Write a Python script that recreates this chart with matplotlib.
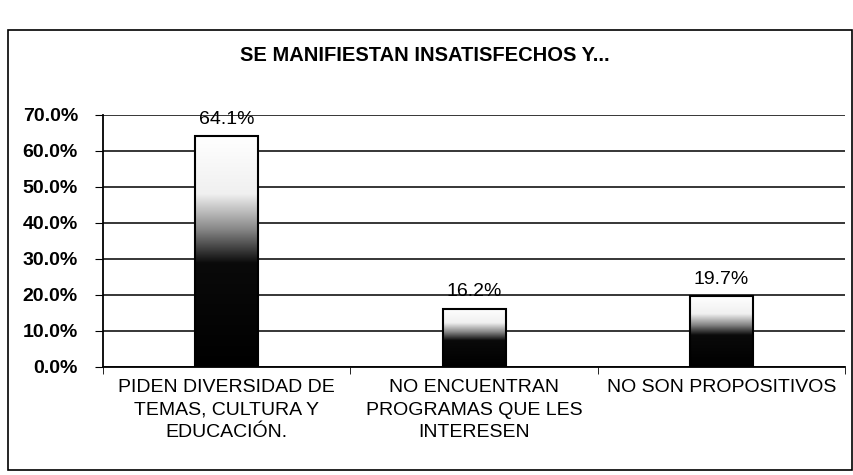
import numpy as np
import matplotlib.pyplot as plt
from matplotlib.colors import LinearSegmentedColormap
from matplotlib.patches import Rectangle

# Data
categories = ["PIDEN DIVERSIDAD DE\nTEMAS, CULTURA Y\nEDUCACIÓN.",
              "NO ENCUENTRAN\nPROGRAMAS QUE LES\nINTERESEN",
              "NO SON PROPOSITIVOS"]
values = [0.641, 0.162, 0.197]
value_labels = ["64.1%", "16.2%", "19.7%"]
y_ticks = [0.0, 0.1, 0.2, 0.3, 0.4, 0.5, 0.6, 0.7]
title = "SE MANIFIESTAN INSATISFECHOS Y..."

plt.rcParams['font.family'] = ['Liberation Sans', 'DejaVu Sans']

fig = plt.figure(figsize=(8.54, 4.75), dpi=100)
ax = fig.add_axes([0.1206, 0.2274, 0.869, 0.531])

# Outer frame of the chart
fig.patches.append(Rectangle((0.009, 0.0105), 0.989, 0.927, transform=fig.transFigure,
                             fill=False, edgecolor='black', linewidth=1.2))

x = np.arange(len(categories))
width = 0.255

# Dark-to-light fill for the bars
cmap = LinearSegmentedColormap.from_list(
    "fade", [(0.0, "black"), (0.45, "#0a0a0a"), (0.6, "#8a8a8a"), (0.75, "#f0f0f0"), (1.0, "white")])
grad = np.linspace(0, 1, 256).reshape(-1, 1)

bars = ax.bar(x, values, width=width, color='none', edgecolor='black', linewidth=1.5, zorder=3)
for b in bars:
    x0, h = b.get_x(), b.get_height()
    ax.imshow(grad, cmap=cmap, origin='lower', aspect='auto',
              extent=[x0, x0 + b.get_width(), 0, h], zorder=2)

for xi, v, lab in zip(x, values, value_labels):
    ax.annotate(lab, (xi, v), xytext=(0, 6), textcoords='offset points',
                ha='center', va='bottom', fontsize=14)

ax.set_xlim(-0.5, len(categories) - 0.5)
ax.set_ylim(0, 0.7)
ax.set_yticks(y_ticks)
ax.set_yticklabels([f"{t * 100:.1f}%" for t in y_ticks], fontsize=14, fontweight='bold')
ax.yaxis.grid(True, color='black', linewidth=1.1)
ax.set_axisbelow(True)

# Category labels, with tick marks between categories
ax.set_xticks(x)
ax.set_xticklabels(categories, fontsize=14, linespacing=1.4)
ax.tick_params(axis='x', length=0, pad=9)
ax.set_xticks(np.arange(len(categories) + 1) - 0.5, minor=True)
ax.tick_params(axis='x', which='minor', length=5, direction='out')
ax.tick_params(axis='y', length=6, direction='out', pad=12)

for s in ['top', 'right']:
    ax.spines[s].set_visible(False)
ax.spines['left'].set_linewidth(1.3)
ax.spines['bottom'].set_linewidth(1.3)

fig.text(0.498, 0.884, title, ha='center', va='center', fontsize=14.5, fontweight='bold')

fig.savefig("out.png", dpi=100)
